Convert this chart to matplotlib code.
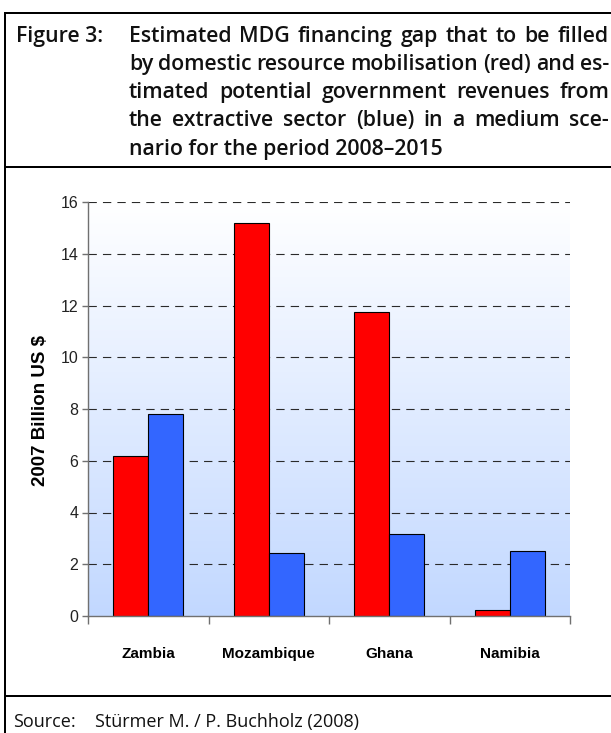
import numpy as np
import matplotlib
matplotlib.use('Agg')
import matplotlib.pyplot as plt
from matplotlib.lines import Line2D
from matplotlib import font_manager
from matplotlib.colors import LinearSegmentedColormap

# data
countries = ['Zambia', 'Mozambique', 'Ghana', 'Namibia']
gap_red = [6.2, 15.2, 11.75, 0.24]      # MDG financing gap (domestic resources)
revenue_blue = [7.8, 2.42, 3.16, 2.52]  # potential revenues from extractive sector
y_ticks = [0, 2, 4, 6, 8, 10, 12, 14, 16]

title_label = 'Figure 3:'
title_lines = [
    'Estimated MDG financing gap that to be filled',
    'by domestic resource mobilisation (red) and es-',
    'timated potential government revenues from',
    'the extractive sector (blue) in a medium sce-',
    'nario for the period 2008\u20132015',
]
source_label = 'Source:'
source_text = 'St\u00fcrmer M. / P. Buchholz (2008)'

W, H = 611, 733
DPI = 100

fig = plt.figure(figsize=(W / DPI, H / DPI), dpi=DPI)
fig.patch.set_facecolor('white')


def fx(px):
    return px / W


def fy(py):
    return 1 - py / H


# --- frame lines ---
lw_frame = 2 * 72 / DPI
for xs, ys in [((5, W), (13, 13)), ((5, 5), (13, H)),
               ((5, W), (167, 167)), ((5, W), (696, 696))]:
    fig.add_artist(Line2D([fx(xs[0]), fx(xs[1])], [fy(ys[0]), fy(ys[1])],
                          transform=fig.transFigure, color='black', lw=lw_frame))

# --- header text, justified ---
head_font = dict(family='Open Sans', fontweight='semibold', fontsize=15.3, color='#111111')
fig.text(fx(16), fy(42), title_label, ha='left', va='baseline', **head_font)

renderer = fig.canvas.get_renderer()
col_left, col_right = 129, 609
baselines = [42, 70, 98, 126, 155]
for i, line in enumerate(title_lines):
    yb = fy(baselines[i])
    if i == len(title_lines) - 1:
        fig.text(fx(col_left), yb, line, ha='left', va='baseline', **head_font)
        continue
    words = line.split(' ')
    widths = []
    for w in words:
        t = fig.text(0, 0, w, **head_font)
        widths.append(t.get_window_extent(renderer).width)
        t.remove()
    gap = (col_right - col_left - sum(widths)) / (len(words) - 1)
    x = col_left
    for w, wd in zip(words, widths):
        fig.text(fx(x), yb, w, ha='left', va='baseline', **head_font)
        x += wd + gap

# --- source ---
src_font = dict(family='Open Sans', fontsize=13, color='#111111')
fig.text(fx(13), fy(727), source_label, ha='left', va='baseline', **src_font)
fig.text(fx(95), fy(727), source_text, ha='left', va='baseline', **src_font)

# --- chart ---
ax = fig.add_axes([fx(88), fy(616), (570 - 88) / W, (616 - 202) / H])
x = np.arange(len(countries))
bw = 0.29

ax.set_xlim(-0.5, len(countries) - 0.5)
ax.set_ylim(0, 16)

grad = LinearSegmentedColormap.from_list('bg', ['#C2D8FF', '#FFFFFF'])
ax.imshow(np.linspace(0, 1, 256).reshape(-1, 1)[::-1], aspect='auto', cmap=grad,
          extent=(-0.5, len(countries) - 0.5, 0, 16), zorder=0, origin='upper')

for yv in y_ticks[1:]:
    ax.axhline(yv, color='#2a2a2a', lw=0.8, dashes=(7.5, 5.5), zorder=1)

ax.bar(x - bw / 2, gap_red, bw, color='#FF0000', edgecolor='black', lw=0.8, zorder=2)
ax.bar(x + bw / 2, revenue_blue, bw, color='#3366FF', edgecolor='black', lw=0.8, zorder=2)

for s in ['top', 'right']:
    ax.spines[s].set_visible(False)
for s in ['left', 'bottom']:
    ax.spines[s].set_color('#707070')
    ax.spines[s].set_linewidth(1.0)
    ax.spines[s].set_zorder(3)

ax.set_yticks(y_ticks)
ax.set_yticklabels([str(v) for v in y_ticks], family='Liberation Sans', fontsize=11.5, color='#222222')
ax.tick_params(axis='y', length=4, width=1, color='#707070', pad=3)

ax.set_xticks(x)
names = {f.name for f in font_manager.fontManager.ttflist}
if 'Liberation Sans Narrow' in names:
    cat_font = dict(family='Liberation Sans Narrow', fontsize=13.5, fontweight='bold')
else:
    cat_font = dict(family='Liberation Sans', fontsize=11, fontweight='bold')
ax.set_xticklabels(countries, **cat_font)
ax.tick_params(axis='x', length=0, pad=22)
ax.set_xticks(np.arange(len(countries) + 1) - 0.5, minor=True)
ax.tick_params(axis='x', which='minor', length=6, width=1, color='#707070')

fig.text(fx(40.5), fy(410), '2007 Billion US $', rotation=90, ha='center', va='center',
         family='Liberation Sans', fontweight='bold', fontsize=13.5)

fig.savefig('out.png', dpi=DPI)
